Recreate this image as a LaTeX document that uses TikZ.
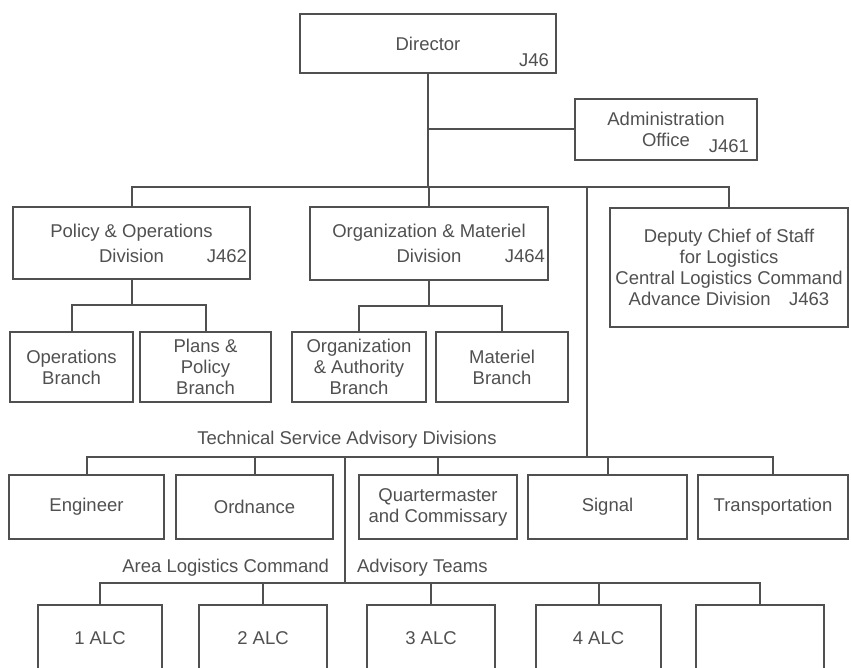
\documentclass[tikz,border=0pt]{standalone}
\usepackage{fontspec}
\setmainfont{Liberation Sans}
\usepackage{tikz}
\usepackage{xcolor}
\definecolor{ink}{HTML}{505050}
\newcommand{\chartfont}{\fontsize{18.5}{21}\selectfont}

\begin{document}
\begin{tikzpicture}[x=1pt,y=-1pt,line width=2pt,draw=ink,text=ink,
    box/.style={draw,rectangle,align=center,inner sep=0pt,font=\chartfont},
    divbox/.style={box,font=\fontsize{18.5}{25}\selectfont},
    code/.style={inner sep=0pt,anchor=south east,font=\chartfont},
    lbl/.style={inner sep=0pt,font=\chartfont}]
  \useasboundingbox (0,0) rectangle (851,668);
  \clip (0,0) rectangle (851,668);

  % head and staff office
  \node[box,minimum width=256,minimum height=59] (dir) at (428,43.5) {Director};
  \node[code,xshift=-7pt,yshift=6pt] (dircode) at (dir.south east) {J46};
  \node[box,minimum width=182,minimum height=61] (adm) at (666,129.5) {Administration\\Office};
  \node[code,xshift=-8pt,yshift=7pt] (admcode) at (adm.south east) {J461};

  % divisions
  \node[divbox,minimum width=237,minimum height=72] (pol) at (131.5,243) {Policy \& Operations\\Division};
  \node[code,xshift=-3pt,yshift=16pt] (polcode) at (pol.south east) {J462};
  \node[divbox,minimum width=238,minimum height=73] (om) at (429,243.5) {Organization \& Materiel\\Division};
  \node[code,xshift=-3pt,yshift=17pt] (omcode) at (om.south east) {J464};
  \node[box,minimum width=238,minimum height=119] (dcs) at (729,267.5)
    {Deputy Chief of Staff\\for Logistics\\Central Logistics Command\\Advance Division\quad J463};

  % branches
  \node[box,minimum width=123,minimum height=70] (opb) at (71.5,367) {Operations\\Branch};
  \node[box,minimum width=131,minimum height=70] (ppb) at (205.5,367) {Plans \&\\Policy\\Branch};
  \node[box,minimum width=134,minimum height=70] (oab) at (359,367) {Organization\\\& Authority\\Branch};
  \node[box,minimum width=132,minimum height=70] (matb) at (502,367) {Materiel\\Branch};

  % technical services
  \node[lbl] (tslbl) at (347,440) {Technical Service Advisory Divisions};
  \node[box,minimum width=155,minimum height=64] (eng) at (86.5,507) {Engineer};
  \node[box,minimum width=157,minimum height=64] (ord) at (254.5,507) {Ordnance};
  \node[box,minimum width=158,minimum height=64] (qm) at (438,507) {Quartermaster\\and Commissary};
  \node[box,minimum width=159,minimum height=64] (sig) at (607.5,507) {Signal};
  \node[box,minimum width=150,minimum height=64] (trans) at (773,507) {Transportation};

  % area commands
  \node[lbl,anchor=east] (alclbl) at (330,568) {Area Logistics Command};
  \node[lbl,anchor=west] (advlbl) at (356,568) {Advisory Teams};
  \node[box,minimum width=124,minimum height=66] (alc1) at (100,638) {1 ALC};
  \node[box,minimum width=128,minimum height=66] (alc2) at (263,638) {2 ALC};
  \node[box,minimum width=128,minimum height=66] (alc3) at (431,638) {3 ALC};
  \node[box,minimum width=125,minimum height=66] (alc4) at (598.5,638) {4 ALC};
  \node[box,minimum width=128,minimum height=66] (alc5) at (760,638) {};

  % connectors
  \coordinate (hub) at (dir.south |- 0,187);
  \coordinate (techhub) at (587,457);
  \coordinate (alchub) at (345,583);
  \coordinate (polhub) at (pol.south |- 0,305);
  \coordinate (omhub) at (om.south |- 0,306);

  \draw (dir.south) -- (hub);
  \draw (adm.west) -- (dir.south |- adm.west);
  \draw (pol.north) |- (hub) -| (dcs.north);
  \draw (om.north) -- (om.north |- hub);
  \draw (techhub |- hub) -- (techhub);

  \draw (pol.south) -- (polhub);
  \draw (opb.north) |- (polhub) -| (ppb.north);
  \draw (om.south) -- (omhub);
  \draw (oab.north) |- (omhub) -| (matb.north);

  \draw (eng.north) |- (techhub) -| (trans.north);
  \foreach \n in {ord,qm,sig}
    \draw (\n.north) -- (\n.north |- techhub);

  \draw (alchub |- techhub) -- (alchub);
  \draw (alc1.north) |- (alchub) -| (alc5.north);
  \foreach \n in {alc2,alc3,alc4}
    \draw (\n.north) -- (\n.north |- alchub);
\end{tikzpicture}
\end{document}
